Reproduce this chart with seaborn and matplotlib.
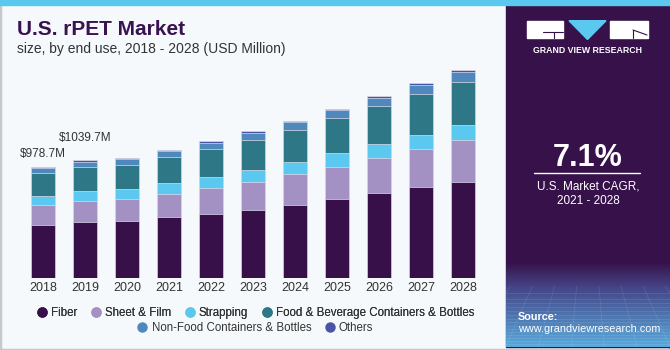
import numpy as np
import pandas as pd
import seaborn as sns
import matplotlib.pyplot as plt
from matplotlib.patches import Rectangle, Polygon
from matplotlib.lines import Line2D

# values (USD Million)
years = ['2018', '2019', '2020', '2021', '2022', '2023', '2024', '2025', '2026', '2027', '2028']
fiber = [464, 490, 502, 535, 566, 602, 646, 694, 752, 800, 850]
sheet_film = [180, 191, 195, 209, 230, 248, 269, 289, 310, 339, 372]
strapping = [80, 86, 88, 95, 95, 104, 109, 119, 124, 127, 130]
food_bev = [207, 215, 215, 233, 248, 266, 286, 315, 336, 363, 383]
non_food = [39, 42, 50, 50, 53, 65, 68, 68, 71, 80, 86]
others = [8.7, 15.7, 12, 12, 15, 15, 12, 12, 18, 12, 18]

segments = ['Fiber', 'Sheet & Film', 'Strapping', 'Food & Beverage Containers & Bottles',
            'Non-Food Containers & Bottles', 'Others']
colors = ['#371049', '#a491c4', '#5bc8f0', '#2e7787', '#4f88bd', '#4a54a4']
labels = {0: '$978.7M', 1: '$1039.7M'}
label_offsets = {0: 10, 1: 19}

W, H = 670, 350
BG = '#f5f9fc'
PURPLE = '#37124a'


def fx(x):
    return x / W


def fy(y):
    return 1 - y / H


sns.set_style('white')
plt.rcParams['font.family'] = ['Liberation Sans', 'DejaVu Sans']

df = pd.DataFrame({'year': years, 'Fiber': fiber, 'Sheet & Film': sheet_film,
                   'Strapping': strapping, 'Food & Beverage Containers & Bottles': food_bev,
                   'Non-Food Containers & Bottles': non_food, 'Others': others})
cum = df[segments].cumsum(axis=1)

fig = plt.figure(figsize=(W / 100, H / 100), dpi=100)
fig.patch.set_facecolor(BG)

# bar axes: baseline at y=277.7px, 1px ~ 8.85M
ax = fig.add_axes([fx(22), fy(277.7), fx(462), (277.7 - 55) / H])
ax.set_facecolor(BG)
for seg, col in reversed(list(zip(segments, colors))):
    sns.barplot(x=df['year'], y=cum[seg], color=col, width=0.58, ax=ax,
                edgecolor='#dcdcec', linewidth=0.5, saturation=1)
ax.set_ylim(0, (277.7 - 55) * 8.85)
ax.set_xlim(-0.5, 10.5)
ax.set_xlabel('')
ax.set_ylabel('')
ax.set_yticks([])
ax.tick_params(axis='x', length=0, pad=3, labelsize=9, labelcolor='#333333')
sns.despine(ax=ax, left=True, bottom=True)

totals = cum['Others'].values
for i, txt in labels.items():
    ax.annotate(txt, xy=(i, totals[i]), xytext=(0, label_offsets[i]), textcoords='offset pixels',
                ha='center', va='baseline', fontsize=8.5, color='#333333')

# title
fig.text(fx(17), fy(35), 'U.S. rPET Market', fontsize=15, fontweight='bold', color='#3a1250',
         va='baseline')
fig.text(fx(17), fy(53), 'size, by end use, 2018 - 2028 (USD Million)', fontsize=10,
         color='#333333', va='baseline')

# legend in two rows
handles = [Line2D([], [], marker='o', ls='', color=c, markersize=6.5) for c in colors]
leg1 = fig.legend(handles[:4], segments[:4], loc='center', bbox_to_anchor=(fx(255), fy(313)),
                  ncol=4, frameon=False, fontsize=8.3, handletextpad=0.3, columnspacing=1.1,
                  handlelength=1, labelcolor='#333333')
fig.legend(handles[4:], segments[4:], loc='center', bbox_to_anchor=(fx(255), fy(328)),
           ncol=2, frameon=False, fontsize=8.3, handletextpad=0.3, columnspacing=1.1,
           handlelength=1, labelcolor='#333333')
fig.add_artist(leg1)

# frame, top strip and right panel
fig.add_artist(Rectangle((0, 0), 1, 1, transform=fig.transFigure, fill=False,
                         edgecolor='#c8c8c8', lw=2.5, zorder=0.5))
fig.add_artist(Rectangle((fx(505.5), fy(347)), fx(670 - 505.5), (347 - 5) / H,
                         transform=fig.transFigure, color=PURPLE, zorder=1))
fig.add_artist(Rectangle((0, fy(5)), 1, 5 / H, transform=fig.transFigure, color='#5bc8f0', zorder=1))

# gradient with a faint mesh at the bottom of the right panel
gax = fig.add_axes([fx(505.5), fy(347), fx(670 - 505.5), (347 - 262) / H])
gax.set_zorder(2)
top = np.array([0x37, 0x12, 0x4a]) / 255
mid = np.array([0x45, 0x45, 0x88]) / 255
bot = np.array([0x58, 0xaa, 0xdc]) / 255
t = np.linspace(0, 1, 100)[:, None]
grad = np.where(t < 0.3, top + (mid - top) * (t / 0.3), mid + (bot - mid) * ((t - 0.3) / 0.7))
gax.imshow(grad[:, None, :].repeat(2, axis=1), aspect='auto', extent=(0, 1, 0, 1), origin='upper')
for k in range(1, 16):
    yy = 0.72 * (1 - (k / 16) ** 0.75)
    gax.plot([0, 1], [yy, yy], color='white', alpha=0.1, lw=0.6)
vx, vy = 0.5, 2.2
for k in np.linspace(-2.0, 3.0, 26):
    s = 0.72 / vy
    gax.plot([k + (vx - k) * s, k], [0.72, 0], color='white', alpha=0.1, lw=0.6)
gax.set_xlim(0, 1)
gax.set_ylim(0, 1)
gax.axis('off')

# logo
fig.add_artist(Rectangle((fx(527), fy(38.3)), fx(36), 17.6 / H, transform=fig.transFigure,
                         color='white', zorder=3))
fig.add_artist(Rectangle((fx(610), fy(38.3)), fx(37.5), 17.6 / H, transform=fig.transFigure,
                         color='white', zorder=3))
fig.add_artist(Polygon([(fx(569), fy(20.7)), (fx(606), fy(20.7)), (fx(587.5), fy(39.5))],
                       transform=fig.transFigure, color='#5bc8f0', zorder=3))
fig.add_artist(Line2D([fx(543), fx(563)], [fy(31.5), fy(31.5)], transform=fig.transFigure,
                      color=PURPLE, lw=0.8, zorder=4))
fig.add_artist(Line2D([fx(554), fx(554)], [fy(31.5), fy(38.3)], transform=fig.transFigure,
                      color=PURPLE, lw=0.8, zorder=4))
fig.add_artist(Line2D([fx(633), fx(647)], [fy(30), fy(35)], transform=fig.transFigure,
                      color=PURPLE, lw=0.8, zorder=4))
fig.add_artist(Line2D([fx(633), fx(633)], [fy(30), fy(38.3)], transform=fig.transFigure,
                      color=PURPLE, lw=0.8, zorder=4))
fig.text(fx(587.5), fy(53), 'GRAND VIEW RESEARCH', fontsize=6.3, fontweight='bold', color='white',
         ha='center', va='baseline', zorder=4)

# CAGR block
fig.text(fx(588), fy(165.7), '7.1%', fontsize=22, fontweight='bold', color='white',
         ha='center', va='baseline', zorder=4)
fig.add_artist(Line2D([fx(534), fx(640)], [fy(173.3), fy(173.3)], transform=fig.transFigure,
                      color='white', lw=1, zorder=4))
fig.text(fx(588), fy(190), 'U.S. Market CAGR,', fontsize=8.5, color='white',
         ha='center', va='baseline', zorder=4)
fig.text(fx(588), fy(204), '2021 - 2028', fontsize=8.5, color='white',
         ha='center', va='baseline', zorder=4)

fig.text(fx(518), fy(320), 'Source:', fontsize=7.8, fontweight='bold', color='white',
         va='baseline', zorder=4)
fig.text(fx(518), fy(331.5), 'www.grandviewresearch.com', fontsize=7.8, color='white',
         va='baseline', zorder=4)

fig.savefig('out.png', dpi=100, facecolor=fig.get_facecolor())
